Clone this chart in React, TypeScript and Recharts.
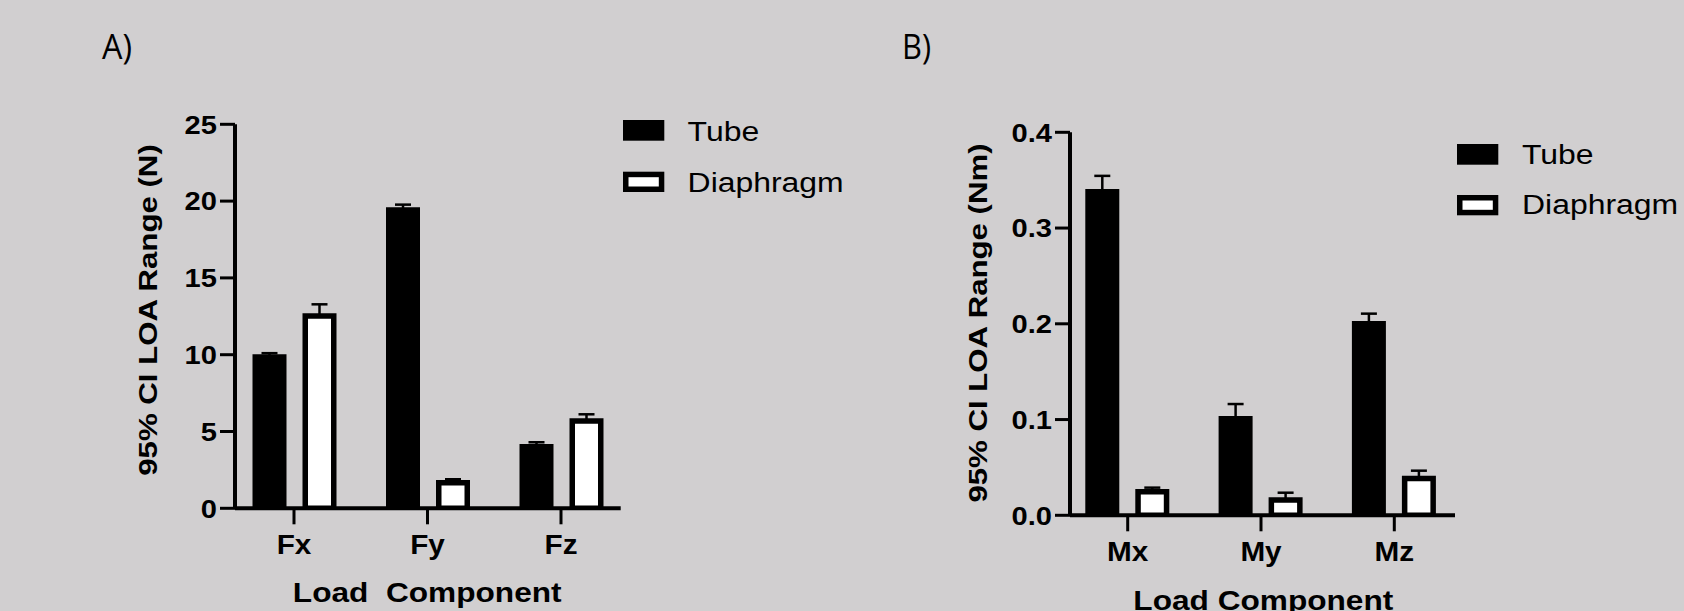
import React from 'react';
import { BarChart, Bar, XAxis, YAxis, ErrorBar, Legend } from 'recharts';

// ---------- data ----------
const forceCategories = ['Fx', 'Fy', 'Fz'];
const forceTube = [9.85, 19.42, 4.01];
const forceTubeErr = [0.25, 0.35, 0.29];
const forceDiaphragm = [12.52, 1.66, 5.68];
const forceDiaphragmErr = [0.76, 0.23, 0.44];
const forceTicks = [0, 5, 10, 15, 20, 25];

const momentCategories = ['Mx', 'My', 'Mz'];
const momentTube = [0.338, 0.1008, 0.2];
const momentTubeErr = [0.0165, 0.0154, 0.0106];
const momentDiaphragm = [0.0246, 0.0159, 0.0385];
const momentDiaphragmErr = [0.0043, 0.0077, 0.0081];
const momentTicks = [0, 0.1, 0.2, 0.3, 0.4];

const seriesNames = ['Tube', 'Diaphragm'];

const buildData = (cats: string[], t: number[], te: number[], d: number[], de: number[]) =>
  cats.map((c, i) => ({
    name: c,
    tube: t[i],
    tubeErr: [0, te[i]],
    diaphragm: d[i],
    diaphragmErr: [0, de[i]],
  }));

const forceData = buildData(forceCategories, forceTube, forceTubeErr, forceDiaphragm, forceDiaphragmErr);
const momentData = buildData(momentCategories, momentTube, momentTubeErr, momentDiaphragm, momentDiaphragmErr);

// ---------- styles ----------
const FONT = '"Liberation Sans", Arial, Helvetica, sans-serif';
const BG = '#d1cfd0';
const STROKE = 5.5;

const makeYTick = (fmt: (v: number) => string) => (props: any) => {
  const { x, y, payload } = props;
  return (
    <g transform={`translate(${x},${y})`}>
      <text
        x={0}
        y={0}
        dy="0.355em"
        textAnchor="end"
        transform="scale(1.12,1)"
        fontFamily={FONT}
        fontSize={26}
        fontWeight={700}
        fill="#000"
      >
        {fmt(payload.value)}
      </text>
    </g>
  );
};

const XTick = (props: any) => {
  const { x, y, payload } = props;
  return (
    <g transform={`translate(${x},${y})`}>
      <text
        x={0}
        y={0}
        dy="0.71em"
        textAnchor="middle"
        transform="scale(1.1,1)"
        fontFamily={FONT}
        fontSize={27}
        fontWeight={700}
        fill="#000"
      >
        {payload.value}
      </text>
    </g>
  );
};

type LegendProps = { textDx: number; base1: number; base2: number; swatch2: number };

const LegendBox = ({ textDx, base1, base2, swatch2 }: LegendProps) => {
  const h = STROKE / 2;
  return (
    <svg width={280} height={110} style={{ overflow: 'visible', display: 'block' }}>
      <rect x={h} y={h} width={41.3 - STROKE} height={20.7 - STROKE} fill="#000" stroke="#000" strokeWidth={STROKE} />
      <rect x={h} y={swatch2 + h} width={41.3 - STROKE} height={20.3 - STROKE} fill="#fff" stroke="#000" strokeWidth={STROKE} />
      <g transform={`translate(${textDx},${base1}) scale(1.14,1)`}>
        <text x={0} y={0} fontFamily={FONT} fontSize={28} fill="#000">
          {seriesNames[0]}
        </text>
      </g>
      <g transform={`translate(${textDx},${base2}) scale(1.14,1)`}>
        <text x={0} y={0} fontFamily={FONT} fontSize={28} fill="#000">
          {seriesNames[1]}
        </text>
      </g>
    </svg>
  );
};

type PanelProps = {
  data: any[];
  ticks: number[];
  domain: [number, number];
  fmt: (v: number) => string;
  margin: { top: number; right: number; bottom: number; left: number };
  padding: { left: number; right: number };
  legendPos: { left: number; top: number };
  legend: LegendProps;
};

const Panel = ({ data, ticks, domain, fmt, margin, padding, legendPos, legend }: PanelProps) => (
  <BarChart width={842} height={611} data={data} margin={margin} barSize={28.5} barGap={21.5}>
    <XAxis
      dataKey="name"
      height={30}
      padding={padding}
      interval={0}
      axisLine={{ stroke: '#000', strokeWidth: 4 }}
      tickLine={{ stroke: '#000', strokeWidth: 3 }}
      tickSize={16}
      tickMargin={11}
      tick={XTick}
    />
    <YAxis
      type="number"
      width={80}
      domain={domain}
      ticks={ticks}
      interval={0}
      allowDataOverflow
      axisLine={{ stroke: '#000', strokeWidth: 4 }}
      tickLine={{ stroke: '#000', strokeWidth: 3 }}
      tickSize={15}
      tickMargin={3}
      tick={makeYTick(fmt)}
    />
    <Legend
      layout="vertical"
      align="center"
      verticalAlign="middle"
      wrapperStyle={{ left: legendPos.left, top: legendPos.top, width: 280, height: 110 }}
      content={() => <LegendBox {...legend} />}
    />
    <Bar dataKey="tube" name={seriesNames[0]} fill="#000" stroke="#000" strokeWidth={STROKE} isAnimationActive={false}>
      <ErrorBar dataKey="tubeErr" direction="y" width={8} strokeWidth={2.5} stroke="#000" isAnimationActive={false} />
    </Bar>
    <Bar dataKey="diaphragm" name={seriesNames[1]} fill="#fff" stroke="#000" strokeWidth={STROKE} isAnimationActive={false}>
      <ErrorBar dataKey="diaphragmErr" direction="y" width={8} strokeWidth={2.5} stroke="#000" isAnimationActive={false} />
    </Bar>
  </BarChart>
);

const TitleText = ({ x, y, rotate, scale, size, children }: any) => (
  <g transform={`translate(${x},${y}) rotate(${rotate}) scale(${scale},1)`}>
    <text x={0} y={0} textAnchor="middle" fontFamily={FONT} fontSize={size} fontWeight={700} fill="#000">
      {children}
    </text>
  </g>
);

export default function App() {
  return (
    <div style={{ position: 'fixed', left: 0, top: 0, width: 1684, height: 611, background: BG, overflow: 'hidden' }}>
      <div style={{ position: 'absolute', left: 0, top: 0 }}>
        <Panel
          data={forceData}
          ticks={forceTicks}
          domain={[0, 25]}
          fmt={(v) => String(v)}
          margin={{ top: 124.3, right: 221.3, bottom: 72.7, left: 155 }}
          padding={{ left: -7.75, right: -7.05 }}
          legendPos={{ left: 622.7, top: 120 }}
          legend={{ textDx: 64.6, base1: 20.5, base2: 71.5, swatch2: 51.7 }}
        />
      </div>
      <div style={{ position: 'absolute', left: 842, top: 0 }}>
        <Panel
          data={momentData}
          ticks={momentTicks}
          domain={[0, 0.4]}
          fmt={(v) => v.toFixed(1)}
          margin={{ top: 132.3, right: 229, bottom: 65.7, left: 148 }}
          padding={{ left: -8.95, right: -5.95 }}
          legendPos={{ left: 1456.7 - 842, top: 144 }}
          legend={{ textDx: 65, base1: 20.3, base2: 70.3, swatch2: 51 }}
        />
      </div>
      <svg
        width={1684}
        height={611}
        style={{ position: 'absolute', left: 0, top: 0, pointerEvents: 'none' }}
      >
        <text x={102} y={59.3} fontFamily='"Open Sans", sans-serif' fontSize={35} fill="#000" textLength={30} lengthAdjust="spacingAndGlyphs">
          A)
        </text>
        <text x={902} y={59.3} fontFamily='"Open Sans", sans-serif' fontSize={35} fill="#000" textLength={29} lengthAdjust="spacingAndGlyphs">
          B)
        </text>
        <TitleText x={157} y={310} rotate={-90} scale={1.2} size={26}>
          95% CI LOA Range (N)
        </TitleText>
        <TitleText x={987} y={323} rotate={-90} scale={1.2} size={26}>
          95% CI LOA Range (Nm)
        </TitleText>
        <TitleText x={427.2} y={601.7} rotate={0} scale={1.13} size={28}>
          {'Load\u00A0\u00A0Component'}
        </TitleText>
        <TitleText x={1263.3} y={610} rotate={0} scale={1.13} size={28}>
          Load Component
        </TitleText>
      </svg>
    </div>
  );
}
